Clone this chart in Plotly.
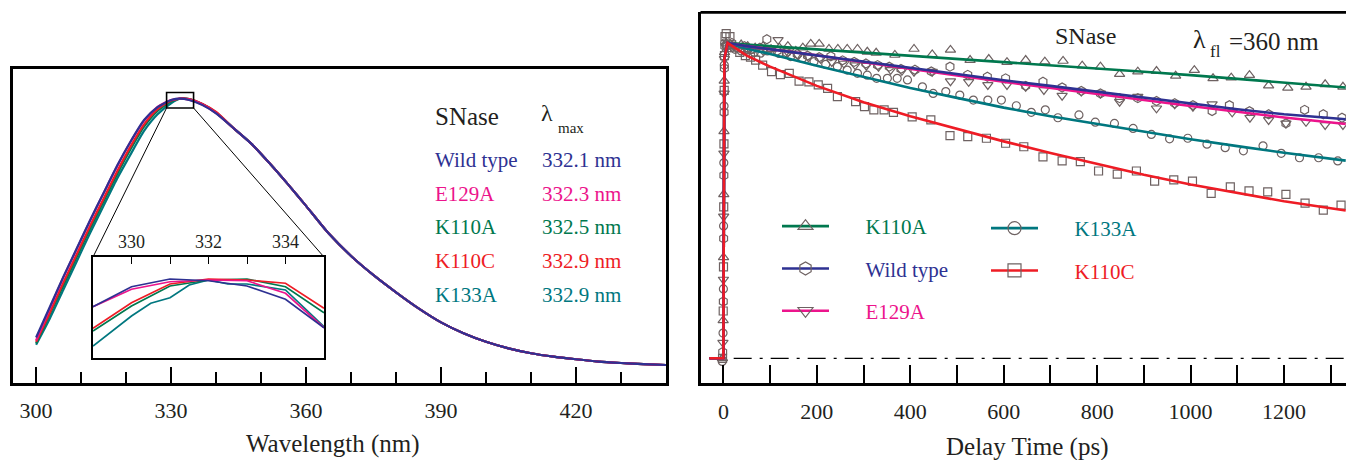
import plotly.graph_objects as go

W, H = 1346, 460
SERIF = "Liberation Serif"

C_WT = "#2E3192"
C_E129A = "#EC148C"
C_K110A = "#00784E"
C_K110C = "#EE1C25"
C_K133A = "#00777F"
MARK = "#6E6262"
TXT = "#231F20"

# ---------------- left panel: emission spectra ----------------
wl_head = [300, 303, 306, 309, 312, 315, 318, 321, 324, 327, 330, 332, 334, 337, 340]
wl_tail = [344, 348, 352, 356, 360, 365, 370, 375, 380, 385, 390, 395, 400, 405,
           410, 415, 420, 425, 430, 435, 440]
spec_tail = [0.89, 0.835, 0.767, 0.695, 0.62, 0.524, 0.445, 0.378, 0.318, 0.262, 0.213,
             0.175, 0.145, 0.122, 0.105, 0.093, 0.084, 0.076, 0.071, 0.067, 0.064]
head_wt = [0.16, 0.265, 0.37, 0.47, 0.57, 0.665, 0.76, 0.845, 0.92, 0.965, 0.99, 0.995, 0.99, 0.972, 0.943]
head_e129a = [0.15, 0.26, 0.368, 0.468, 0.568, 0.664, 0.758, 0.844, 0.918, 0.966, 0.99, 0.995, 0.991, 0.973, 0.944]
head_k110c = [0.145, 0.245, 0.35, 0.45, 0.55, 0.645, 0.74, 0.828, 0.905, 0.958, 0.988, 0.995, 0.993, 0.976, 0.948]
head_k110a = [0.14, 0.24, 0.34, 0.44, 0.54, 0.635, 0.73, 0.818, 0.897, 0.952, 0.985, 0.995, 0.993, 0.975, 0.947]
head_k133a = [0.135, 0.225, 0.325, 0.425, 0.525, 0.62, 0.715, 0.8, 0.882, 0.94, 0.978, 0.995, 0.993, 0.975, 0.945]

# inset (zoom of the peak)
inset_x = [329, 330, 331, 332, 333, 334, 335]
inset_wt = [0.9801, 0.9881, 0.9912, 0.9905, 0.9884, 0.9831, 0.9717]
inset_e129a = [0.9801, 0.9871, 0.9901, 0.9908, 0.9905, 0.9855, 0.9717]
inset_k110c = [0.9715, 0.9817, 0.9892, 0.9912, 0.9908, 0.9895, 0.9795]
inset_k110a = [0.9704, 0.9804, 0.9884, 0.9908, 0.9912, 0.9881, 0.9777]
inset_x_k133a = [329, 330, 330.5, 331, 331.5, 332, 332.5, 333, 334, 335]
inset_k133a = [0.9644, 0.9764, 0.9815, 0.9837, 0.9888, 0.9908, 0.9892, 0.9892, 0.9868, 0.9721]

legend_names = ["Wild type", "E129A", "K110A", "K110C", "K133A"]
legend_lmax = ["332.1 nm", "332.3 nm", "332.5 nm", "332.9 nm", "332.9 nm"]

# ---------------- right panel: fluorescence decays ----------------
t_fit = [-30, 0, 2, 9, 50, 100, 200, 300, 400, 500, 600, 700, 800, 900, 1000, 1100, 1200, 1332]
fit_k110a = [0, 0, 0.95, 1.0, 0.995, 0.99, 0.981, 0.970, 0.960, 0.950, 0.940, 0.930, 0.919, 0.909, 0.898, 0.886, 0.874, 0.859]
fit_wt = [0, 0, 0.95, 1.0, 0.99, 0.980, 0.961, 0.941, 0.922, 0.902, 0.882, 0.864, 0.845, 0.827, 0.808, 0.790, 0.774, 0.758]
fit_e129a = [0, 0, 0.95, 1.0, 0.99, 0.981, 0.961, 0.939, 0.917, 0.897, 0.877, 0.857, 0.838, 0.819, 0.800, 0.782, 0.764, 0.743]
fit_k133a = [0, 0, 0.95, 1.0, 0.982, 0.965, 0.928, 0.893, 0.857, 0.826, 0.795, 0.768, 0.743, 0.718, 0.695, 0.673, 0.652, 0.627]
fit_k110c = [0, 0, 0.95, 1.0, 0.96, 0.925, 0.864, 0.812, 0.768, 0.728, 0.688, 0.651, 0.616, 0.582, 0.551, 0.524, 0.498, 0.469]

t_k110a = [-2, -0.5, 0.3, 0.8, 1.3, 1.8, 2.5,
           6, 15, 25, 38, 52, 68, 85, 102, 120, 138, 155, 170,
           187, 205, 226, 245, 265, 287, 308, 327, 367, 408, 447, 486, 528, 568, 607, 647, 688,
           727, 768, 807, 848,
           887, 927, 968, 1008, 1048, 1087, 1126, 1167, 1208, 1247, 1288, 1326]
v_k110a = [0.0, 0.12, 0.32, 0.52, 0.72, 0.88, 0.97,
           1.0, 0.995, 0.99, 0.995, 0.99, 0.985, 0.99, 0.98, 0.985, 0.99, 0.975, 0.985,
           0.997, 0.997, 0.981, 0.981, 0.981, 0.981, 0.972, 0.969, 0.962, 0.981, 0.964, 0.978, 0.946,
           0.949, 0.939, 0.946, 0.941, 0.943, 0.928, 0.925, 0.901,
           0.909, 0.911, 0.896, 0.914, 0.888, 0.890, 0.898, 0.865, 0.858, 0.861, 0.869, 0.861]

t_wt = [-1.5, -0.2, 0.5, 1.0, 1.5, 2.0, 3.0,
        8, 18, 30, 45, 60, 78, 93, 115, 135, 158, 180, 205, 230, 255, 280, 305, 330, 355, 380, 410, 445,
        485, 523, 565, 604, 647, 684, 725, 766, 807, 848,
        887, 927, 966, 1005, 1046, 1083, 1126, 1167, 1204, 1244, 1284, 1324]
v_wt = [0.02, 0.18, 0.38, 0.58, 0.78, 0.92, 0.99,
        0.99, 1.0, 0.985, 0.99, 0.98, 0.985, 1.012, 0.975, 0.97, 0.965, 0.96, 0.955, 0.958, 0.945,
        0.94, 0.935, 0.93, 0.925, 0.918, 0.915, 0.91,
        0.925, 0.899, 0.893, 0.888, 0.864, 0.877, 0.859, 0.848, 0.840, 0.825,
        0.825, 0.816, 0.809, 0.803, 0.784, 0.803, 0.784, 0.774, 0.745, 0.788, 0.774, 0.763]

t_e129a = [-1, 0.1, 0.6, 1.1, 1.6, 2.2,
           10, 22, 35, 50, 68, 85, 100, 117, 138, 160, 182, 208, 232, 258, 282, 306, 332, 358, 382,
           408, 447, 486, 525, 566, 607, 647, 686, 725, 766, 807, 848,
           887, 927, 966, 1005, 1046, 1089, 1127, 1167, 1204, 1247, 1288, 1326]
v_e129a = [0.05, 0.25, 0.45, 0.65, 0.84, 0.95,
           1.0, 0.99, 0.985, 0.98, 0.985, 0.975, 0.98, 1.01, 0.97, 0.96, 0.955, 0.95, 0.94, 0.935,
           0.93, 0.928, 0.925, 0.915, 0.912,
           0.909, 0.909, 0.879, 0.877, 0.867, 0.867, 0.861, 0.851, 0.833, 0.846, 0.840, 0.814,
           0.830, 0.793, 0.806, 0.798, 0.806, 0.780, 0.763, 0.756, 0.745, 0.750, 0.740, 0.740]

t_k133a = [-2.5, -0.8, 0, 0.4, 0.9, 1.4, 1.9, 2.7,
           6, 15, 25, 38, 52, 66, 80,
           94, 119, 144, 169, 194, 219, 244, 265, 287, 308, 328, 351, 372, 394, 426, 449, 476, 506,
           535, 566, 595, 627, 659, 689, 716, 761, 796, 837,
           877, 916, 955, 994, 1035, 1074, 1113, 1155, 1194, 1233, 1274, 1315]
v_k133a = [-0.01, 0.08, 0.22, 0.42, 0.62, 0.8, 0.93, 1.0,
           0.99, 0.985, 0.98, 0.975, 0.978, 0.97, 0.968,
           0.975, 0.967, 0.957, 0.951, 0.941, 0.932, 0.925, 0.914, 0.904, 0.898, 0.888, 0.888, 0.888,
           0.883, 0.861, 0.840, 0.846, 0.835, 0.819, 0.819, 0.819, 0.801, 0.780, 0.788, 0.763, 0.772,
           0.749, 0.745,
           0.729, 0.710, 0.696, 0.698, 0.679, 0.668, 0.658, 0.674, 0.650, 0.636, 0.636, 0.626]

t_k110c = [-1.8, -0.4, 0.2, 0.7, 1.2, 1.7, 2.3, 3.5,
           6, 14, 24, 35, 47, 58,
           69, 84, 103, 122, 141, 162, 183, 203, 223, 244, 283, 302, 322, 344, 364, 404, 444, 485, 523,
           563, 604, 643, 684, 725, 764, 803, 843,
           884, 923, 964, 1004, 1044, 1085, 1125, 1165, 1204, 1245, 1284, 1322]
v_k110c = [0.0, 0.15, 0.29, 0.48, 0.68, 0.85, 0.96, 1.02,
           1.03, 1.02, 0.985, 0.97, 0.96, 0.955,
           0.946, 0.930, 0.909, 0.90, 0.904, 0.879, 0.877, 0.867, 0.856, 0.830, 0.814, 0.798, 0.788,
           0.788, 0.780, 0.766, 0.756, 0.706, 0.703, 0.698, 0.682, 0.671, 0.639, 0.626, 0.624, 0.594,
           0.584,
           0.594, 0.562, 0.566, 0.562, 0.523, 0.544, 0.531, 0.528, 0.520, 0.492, 0.470, 0.486]

# ---------------- geometry (pixels of the 1346x460 page) ----------------
def px(x):
    return x / W

def py(y):
    return 1 - y / H

L_DOM_X = [px(12.7), px(666)]
L_DOM_Y = [py(383.3), py(68.5)]
L_RNG_X = [294.8, 440]
L_RNG_Y = [0, 1.1]
I_DOM_X = [px(93), px(324)]
I_DOM_Y = [py(358), py(257)]
R_DOM_X = [px(700.5), 1.0]
R_DOM_Y = [py(383.3), py(12.3)]

fig = go.Figure()

# left spectra
for yv_head, col in [(head_k133a, C_K133A), (head_k110a, C_K110A), (head_k110c, C_K110C),
                     (head_e129a, C_E129A), (head_wt, C_WT)]:
    fig.add_trace(go.Scatter(x=wl_head + wl_tail, y=yv_head + spec_tail, mode="lines",
                             line=dict(color=col, width=2.2, shape="spline", smoothing=0.6),
                             xaxis="x", yaxis="y", showlegend=False, hoverinfo="skip"))

# inset traces
for xs, ys, col in [(inset_x_k133a, inset_k133a, C_K133A), (inset_x, inset_k110a, C_K110A),
                    (inset_x, inset_k110c, C_K110C), (inset_x, inset_e129a, C_E129A),
                    (inset_x, inset_wt, C_WT)]:
    fig.add_trace(go.Scatter(x=xs, y=ys, mode="lines", line=dict(color=col, width=1.7),
                             xaxis="x3", yaxis="y3", showlegend=False, hoverinfo="skip"))

# right: data markers
series = [
    ("K110A", t_k110a, v_k110a, fit_k110a, C_K110A, "triangle-up-open", 9),
    ("Wild type", t_wt, v_wt, fit_wt, C_WT, "hexagon-open", 9),
    ("E129A", t_e129a, v_e129a, fit_e129a, C_E129A, "triangle-down-open", 9),
    ("K133A", t_k133a, v_k133a, fit_k133a, C_K133A, "circle-open", 8),
    ("K110C", t_k110c, v_k110c, fit_k110c, C_K110C, "square-open", 8),
]
for name, tt, vv, ff, col, sym, sz in series:
    fig.add_trace(go.Scatter(x=tt, y=vv, mode="markers",
                             marker=dict(symbol=sym, size=sz, color=MARK, line=dict(width=1.2, color=MARK)),
                             xaxis="x2", yaxis="y2", showlegend=False, hoverinfo="skip"))

# right: fit lines (drawn over markers)
order = ["K110A", "K133A", "E129A", "Wild type", "K110C"]
sdict = {s[0]: s for s in series}
for nm in order:
    name, tt, vv, ff, col, sym, sz = sdict[nm]
    fig.add_trace(go.Scatter(x=t_fit, y=ff, mode="lines", line=dict(color=col, width=2.6),
                             xaxis="x2", yaxis="y2", showlegend=False, hoverinfo="skip"))

# legend entries (two columns)
leg_cols = {"K110A": "legend", "Wild type": "legend", "E129A": "legend",
            "K133A": "legend2", "K110C": "legend2"}
for nm in ["K110A", "Wild type", "E129A", "K133A", "K110C"]:
    name, tt, vv, ff, col, sym, sz = sdict[nm]
    fig.add_trace(go.Scatter(x=[None], y=[None], mode="lines+markers",
                             name="&nbsp;&nbsp;&nbsp;&nbsp;&nbsp;&nbsp;<span style='color:%s'>%s</span>" % (col, nm),
                             line=dict(color=col, width=2.6),
                             marker=dict(symbol=sym, size=13, color=MARK, line=dict(width=1.2, color=MARK)),
                             xaxis="x2", yaxis="y2", legend=leg_cols[nm], legendgroup=nm,
                             showlegend=True, hoverinfo="skip"))

tickfont = dict(family=SERIF, size=22, color=TXT)

fig.update_layout(
    width=W, height=H, margin=dict(l=0, r=0, t=0, b=0),
    paper_bgcolor="white", plot_bgcolor="white",
    font=dict(family=SERIF),
    xaxis=dict(domain=L_DOM_X, range=L_RNG_X, anchor="y", showline=True, mirror=True,
               linecolor="black", linewidth=2.5, showgrid=False, zeroline=False,
               ticks="inside", tick0=300, dtick=30, ticklen=17, tickwidth=1.6, tickcolor="black",
               minor=dict(ticks="inside", tick0=300, dtick=10, ticklen=12, tickwidth=1.6,
                          tickcolor="black", showgrid=False),
               tickfont=tickfont, ticklabelstandoff=6),
    yaxis=dict(domain=L_DOM_Y, range=L_RNG_Y, anchor="x", showline=True, mirror=True,
               linecolor="black", linewidth=2.5, showgrid=False, zeroline=False,
               showticklabels=False, ticks=""),
    xaxis3=dict(domain=I_DOM_X, range=[329, 335], anchor="y3", side="top", showline=True,
                mirror=True, linecolor="black", linewidth=2, showgrid=False, zeroline=False,
                ticks="inside", tickvals=[330, 331, 332, 333, 334],
                ticktext=["330", "", "332", "", "334"], ticklen=7, tickwidth=1.4,
                tickcolor="black", tickfont=dict(family=SERIF, size=18, color=TXT)),
    yaxis3=dict(domain=I_DOM_Y, range=[0.9596, 1.0], anchor="x3", showline=True, mirror=True,
                linecolor="black", linewidth=2, showgrid=False, zeroline=False,
                showticklabels=False, ticks=""),
    xaxis2=dict(domain=R_DOM_X, range=[-49, 1332.6], anchor="y2", showline=True,
                linecolor="black", linewidth=2.8, showgrid=False, zeroline=False,
                ticks="inside", tick0=0, dtick=200, ticklen=18, tickwidth=1.6, tickcolor="black",
                minor=dict(ticks="inside", tick0=0, dtick=100, ticklen=18, tickwidth=1.6,
                           tickcolor="black", showgrid=False),
                tickfont=tickfont, ticklabelstandoff=6),
    yaxis2=dict(domain=R_DOM_Y, range=[-0.0793, 1.0974], anchor="x2", showline=True,
                linecolor="black", linewidth=2.8, showgrid=False, zeroline=False,
                showticklabels=False, ticks=""),
    legend=dict(x=px(777), y=py(206), xanchor="left", yanchor="top", bgcolor="rgba(0,0,0,0)",
                font=dict(family=SERIF, size=21, color=TXT), itemwidth=47, tracegroupgap=12,
                traceorder="grouped"),
    legend2=dict(x=px(986), y=py(208), xanchor="left", yanchor="top", bgcolor="rgba(0,0,0,0)",
                 font=dict(family=SERIF, size=21, color=TXT), itemwidth=47, tracegroupgap=12,
                 traceorder="grouped"),
)

# ---- shapes: peak box, connectors, right top border, baseline
def lp_x(x):
    return L_DOM_X[0] + (x - L_RNG_X[0]) / (L_RNG_X[1] - L_RNG_X[0]) * (L_DOM_X[1] - L_DOM_X[0])

def lp_y(y):
    return L_DOM_Y[0] + (y - L_RNG_Y[0]) / (L_RNG_Y[1] - L_RNG_Y[0]) * (L_DOM_Y[1] - L_DOM_Y[0])

box_x = [329, 335]
box_y = [0.962, 1.016]
shapes = [
    dict(type="rect", xref="x", yref="y", x0=box_x[0], x1=box_x[1], y0=box_y[0], y1=box_y[1],
         line=dict(color="black", width=1.6)),
    dict(type="line", xref="paper", yref="paper", x0=lp_x(box_x[0]), y0=lp_y(box_y[0]),
         x1=I_DOM_X[0], y1=I_DOM_Y[1], line=dict(color="black", width=1)),
    dict(type="line", xref="paper", yref="paper", x0=lp_x(box_x[1]), y0=lp_y(box_y[0]),
         x1=I_DOM_X[1], y1=I_DOM_Y[1], line=dict(color="black", width=1)),
    dict(type="line", xref="paper", yref="paper", x0=R_DOM_X[0], x1=1.0, y0=R_DOM_Y[1],
         y1=R_DOM_Y[1], line=dict(color="black", width=2.8)),
    dict(type="line", xref="x2", yref="y2", x0=22, x1=1332.6, y0=0, y1=0,
         line=dict(color="black", width=1.2, dash="18px,8px,3px,8px")),
]
fig.update_layout(shapes=shapes)

# ---- text annotations
ann = []

def txt(x, y, s, size, color=TXT, xanchor="left"):
    ann.append(dict(x=px(x), y=py(y), xref="paper", yref="paper", text=s, showarrow=False,
                    xanchor=xanchor, yanchor="middle", font=dict(family=SERIF, size=size, color=color)))

txt(433, 117, "SNase", 25)
txt(539, 113, "λ", 24)
txt(556, 128, "max", 15)
rows_y = [160, 193.5, 227, 261, 295]
rows_c = [C_WT, C_E129A, C_K110A, C_K110C, C_K133A]
for nm, lm, yy, cc in zip(legend_names, legend_lmax, rows_y, rows_c):
    txt(433, yy, nm, 21, cc)
    txt(540, yy, lm, 21, cc)

txt(1085, 36, "SNase", 24, xanchor="center")
txt(1191, 40, "λ", 26)
txt(1208, 51, "fl", 17)
txt(1227, 41, "=360 nm", 25)

txt(333, 444, "Wavelength (nm)", 25, xanchor="center")
txt(1027, 447, "Delay Time (ps)", 25, xanchor="center")

fig.update_layout(annotations=ann)

fig.write_html("out.html", config={"displayModeBar": False},
               post_script="document.body.style.margin='0';document.body.style.overflow='hidden';")
